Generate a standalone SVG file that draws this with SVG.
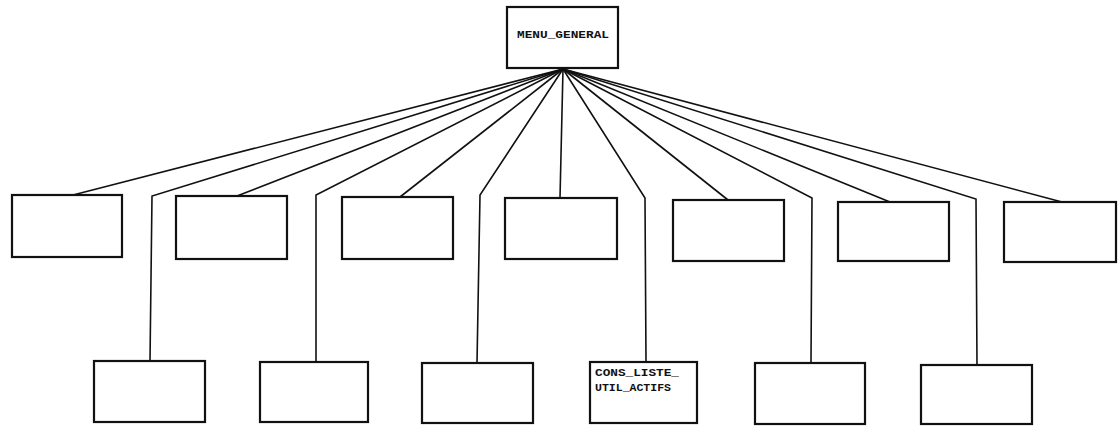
<svg xmlns="http://www.w3.org/2000/svg" width="1119" height="426" viewBox="0 0 1119 426">
<style>
.box{fill:#fff;stroke:#111;stroke-width:2.2}
.ln{fill:none;stroke:#111;stroke-width:1.6}
.t{font-family:"Liberation Mono",monospace;font-weight:bold;font-size:10px;fill:#111}
</style>
<rect width="1119" height="426" fill="#fff"/>
<g id="connectors">
<path class="ln" d="M563 69 L73 195"/>
<path class="ln" d="M563 69 L152 196 L150 361"/>
<path class="ln" d="M563 69 L237 196"/>
<path class="ln" d="M563 69 L316 195 L316 362"/>
<path class="ln" d="M563 69 L400 197"/>
<path class="ln" d="M563 69 L480 195 L477 363"/>
<path class="ln" d="M563 69 L560 198"/>
<path class="ln" d="M563 69 L645 198 L646 362"/>
<path class="ln" d="M563 69 L728 200"/>
<path class="ln" d="M563 69 L812 198 L811 363"/>
<path class="ln" d="M563 69 L890 202"/>
<path class="ln" d="M563 69 L976 199 L977 365"/>
<path class="ln" d="M563 69 L1062 202"/>
</g>
<g id="menu_general"><rect class="box" x="507" y="7" width="111" height="61"/><text class="t" x="517" y="38" textLength="92" lengthAdjust="spacingAndGlyphs">MENU_GENERAL</text></g>
<g id="r1"><rect class="box" x="12" y="195" width="110" height="62"/></g>
<g id="r2"><rect class="box" x="176" y="196" width="111" height="63"/></g>
<g id="r3"><rect class="box" x="342" y="197" width="111" height="62"/></g>
<g id="r4"><rect class="box" x="505" y="198" width="112" height="61"/></g>
<g id="r5"><rect class="box" x="673" y="200" width="111" height="61"/></g>
<g id="r6"><rect class="box" x="838" y="202" width="111" height="59"/></g>
<g id="r7"><rect class="box" x="1004" y="202" width="112" height="60"/></g>
<g id="b1"><rect class="box" x="94" y="361" width="111" height="61"/></g>
<g id="b2"><rect class="box" x="260" y="362" width="108" height="60"/></g>
<g id="b3"><rect class="box" x="422" y="363" width="111" height="60"/></g>
<g id="cons_liste_util_actifs"><rect class="box" x="590" y="362" width="107" height="61"/><text class="t" x="595" y="376" textLength="84" lengthAdjust="spacingAndGlyphs">CONS_LISTE_</text><text class="t" x="595" y="391" textLength="76" lengthAdjust="spacingAndGlyphs">UTIL_ACTIFS</text></g>
<g id="b5"><rect class="box" x="755" y="363" width="110" height="61"/></g>
<g id="b6"><rect class="box" x="921" y="365" width="111" height="59"/></g>
</svg>
